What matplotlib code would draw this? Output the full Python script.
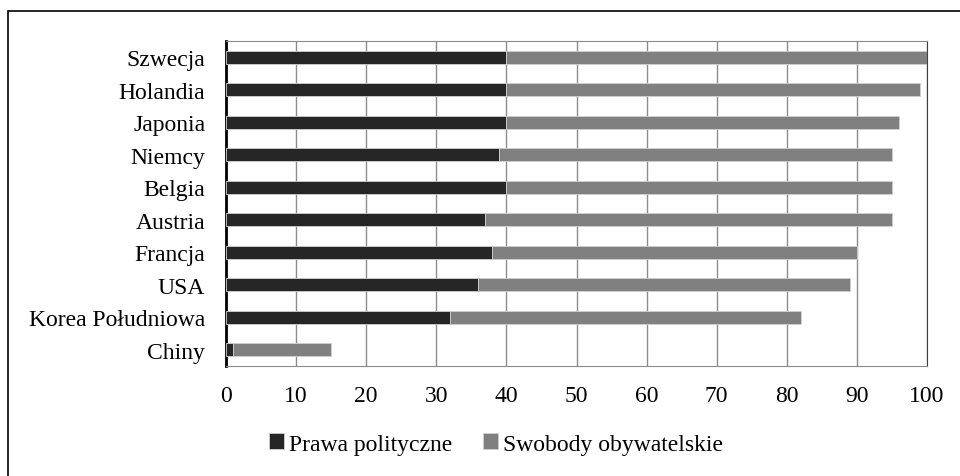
import numpy as np
import matplotlib
matplotlib.use('Agg')
import matplotlib.pyplot as plt
from matplotlib.patches import Rectangle

plt.rcParams['font.family'] = ['Liberation Serif', 'DejaVu Serif']

countries = ['Szwecja', 'Holandia', 'Japonia', 'Niemcy', 'Belgia', 'Austria',
             'Francja', 'USA', 'Korea Południowa', 'Chiny']
prawa = [40, 40, 40, 39, 40, 37, 38, 36, 32, 1]
swobody = [60, 59, 56, 56, 55, 58, 52, 53, 50, 14]
xticks = [0, 10, 20, 30, 40, 50, 60, 70, 80, 90, 100]

fig = plt.figure(figsize=(9.6, 4.77), dpi=100)
ax = fig.add_axes([226/960, 1 - 367/477, (927 - 226)/960, (367 - 42)/477])

y = np.arange(len(countries))
ax.barh(y, prawa, height=0.4, color='#262626', edgecolor='#d0d0d0', linewidth=0.6,
        label='Prawa polityczne', zorder=3)
ax.barh(y, swobody, left=prawa, height=0.4, color='#808080', edgecolor='#d0d0d0',
        linewidth=0.6, label='Swobody obywatelskie', zorder=3)

fs = 17
ax.set_xlim(0, 100)
ax.set_ylim(len(countries) - 0.5, -0.5)
ax.set_yticks(y)
ax.set_yticklabels(countries, fontsize=fs)
ax.set_xticks(xticks)
ax.set_xticklabels([str(t) for t in xticks], fontsize=fs)
ax.tick_params(axis='both', length=0)
ax.tick_params(axis='y', pad=15)
ax.tick_params(axis='x', pad=14)
ax.grid(axis='x', color='#8c8c8c', linewidth=1, zorder=0)
for s in ['top', 'bottom']:
    ax.spines[s].set_color('#8c8c8c')
ax.spines['right'].set_color('#404040')
ax.spines['left'].set_color('black')
ax.spines['left'].set_linewidth(2)

fig.legend(loc='center', bbox_to_anchor=(496/960, 1 - 445/477), ncol=2,
           frameon=False, fontsize=fs, handlelength=0.65, handleheight=0.65,
           handletextpad=0.2, columnspacing=1.3)

fig.patches.append(Rectangle((8/960, -0.1), 1.1, 1 - 12/477 + 0.1,
                             transform=fig.transFigure, fill=False,
                             edgecolor='black', linewidth=1.2))

fig.savefig('out.png', dpi=100)
